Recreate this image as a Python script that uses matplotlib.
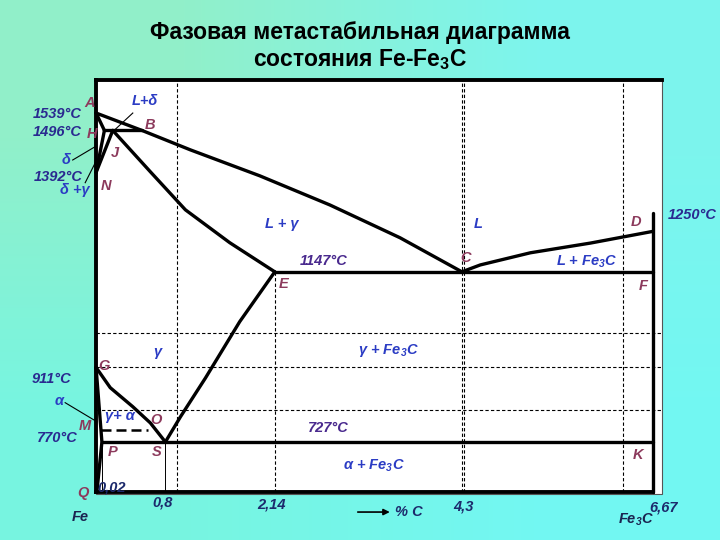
import numpy as np
import matplotlib
matplotlib.use("Agg")
import matplotlib.pyplot as plt
from matplotlib.patches import Rectangle

plt.rcParams['font.family'] = ['Liberation Sans', 'DejaVu Sans']

# Линии диаграммы: содержание углерода (%C) и температура (°C)
liquidus_c = [0, 0.55, 1.13, 1.96, 2.80, 3.64, 4.38]          # A-B-C
liquidus_t = [1539, 1496, 1448, 1384, 1312, 1231, 1147]
cd_c = [4.38, 4.60, 5.20, 5.92, 6.67]                         # C-D
cd_t = [1147, 1164, 1194, 1218, 1247]
je_c = [0.2, 0.65, 1.07, 1.60, 2.14]                          # J-E
je_t = [1496, 1394, 1300, 1219, 1147]
es_c = [2.14, 1.72, 1.31, 1.01, 0.83]                         # E-S
es_t = [1147, 1024, 885, 789, 727]
gs_c = [0, 0.17, 0.44, 0.65, 0.83]                            # G-S
gs_t = [911, 861, 814, 774, 727]
gpq_c = [0, 0.07, 0.01]                                       # G-P-Q
gpq_t = [911, 727, 604]
ah_c, ah_t = [0, 0.1], [1539, 1496]                           # A-H
hb_c, hb_t = [0.1, 0.55], [1496, 1496]                        # H-J-B
hn_c, hn_t = [0.1, 0], [1496, 1392]                           # H-N
jn_c, jn_t = [0.2, 0], [1496, 1392]                           # J-N
ecf_c, ecf_t = [2.14, 6.67], [1147, 1147]
psk_c, psk_t = [0.07, 6.67], [727, 727]
fe3c_c, fe3c_t = [6.67, 6.67], [604, 1293]
mo_c, mo_t = [0.06, 0.62], [757, 757]                         # 770°C (пунктир)

# Сетка
grid_v_full = [0.97, 4.38, 6.31]
grid_v_low = [2.14]
grid_h = [996, 911, 806]

# Поле диаграммы
box_c = [0, 6.78]
box_t = [604, 1621]


def main():
    fig = plt.figure(figsize=(7.2, 5.4), dpi=100)
    ax = fig.add_axes([0, 0, 1, 1])
    ax.set_xlim(-1.15, 7.47)
    ax.set_ylim(485, 1818)
    ax.axis('off')

    # Фон с градиентом
    grad = np.array([[[0.57, 0.94, 0.79], [0.49, 0.96, 0.93]],
                     [[0.47, 0.96, 0.88], [0.45, 0.97, 0.95]]])
    ax.imshow(grad, extent=[-1.15, 7.47, 485, 1818], aspect='auto',
              interpolation='bilinear', origin='upper', zorder=0)

    ax.add_patch(Rectangle((box_c[0], box_t[0] - 5), box_c[1] - box_c[0],
                           box_t[1] - box_t[0] + 5, facecolor='white',
                           edgecolor='#555555', lw=0.8, zorder=1))

    # Пунктирная сетка
    dash = dict(color='black', lw=0.8, ls=(0, (3, 2)), zorder=2)
    for c in grid_v_full:
        ax.plot([c, c], [box_t[0], box_t[1]], **dash)
    ax.plot([4.41, 4.41], [box_t[0], box_t[1]], **dash)
    for c in grid_v_low:
        ax.plot([c, c], [box_t[0], 1147], **dash)
    for t in grid_h:
        ax.plot([0, box_c[1]], [t, t], **dash)
    ax.plot([0.07, 0.07], [604, 727], color='black', lw=0.7, zorder=2)
    ax.plot([0.83, 0.83], [604, 727], color='black', lw=0.7, zorder=2)

    # Основные линии
    thick = dict(color='black', lw=2.4, solid_capstyle='round', solid_joinstyle='round', zorder=4)
    for xs, ys in [(liquidus_c, liquidus_t), (cd_c, cd_t), (je_c, je_t),
                   (es_c, es_t), (gs_c, gs_t), (gpq_c, gpq_t), (ah_c, ah_t),
                   (hb_c, hb_t), (hn_c, hn_t), (jn_c, jn_t), (ecf_c, ecf_t),
                   (psk_c, psk_t), (fe3c_c, fe3c_t)]:
        ax.plot(xs, ys, **thick)
    ax.plot(mo_c, mo_t, color='black', lw=1.8, ls=(0, (4, 2)), zorder=4)

    # Рамка
    border = dict(color='black', lw=2.8, zorder=5)
    ax.plot([0, 0], [box_t[0], box_t[1]], **border)
    ax.plot([0, box_c[1]], [box_t[1], box_t[1]], **border)
    ax.plot([0, 6.67], [box_t[0], box_t[0]], **border)

    # Выноски
    for xs, ys in [([0.44, 0.2], [1539, 1493]), ([-0.28, -0.01], [1423, 1456]),
                   ([-0.13, -0.01], [1367, 1416]), ([-0.37, 0.01], [824, 777])]:
        ax.plot(xs, ys, color='black', lw=0.8, zorder=4)
    ax.annotate('', xy=(3.55, 554), xytext=(3.10, 554),
                arrowprops=dict(arrowstyle='-|>', color='black', lw=1.2,
                                mutation_scale=9))

    temp = '#2a2a90'
    purp = '#4a2a8e'
    pt = '#8c3a5c'
    ph = '#2b3cc4'
    nav = '#1c2a6c'
    fe3 = r'Fe$_\mathregular{3}$C'

    def lab(c, t, s, color, size=10.5):
        ax.text(c, t, s, color=color, fontsize=size, fontweight='bold',
                fontstyle='italic', ha='center', va='center', zorder=6)

    labels = [
        (-0.47, 1537, '1539°C', temp), (-0.08, 1564, 'A', pt),
        (-0.47, 1492, '1496°C', temp), (-0.05, 1488, 'H', pt),
        (0.59, 1569, 'L+δ', ph), (0.65, 1510, 'B', pt),
        (0.22, 1441, 'J', pt), (-0.36, 1424, 'δ', ph),
        (-0.45, 1382, '1392°C', temp), (-0.26, 1349, 'δ +γ', ph),
        (0.12, 1359, 'N', pt), (2.22, 1266, 'L + γ', ph),
        (4.57, 1266, 'L', ph), (6.47, 1270, 'D', pt),
        (7.14, 1288, '1250°C', temp), (2.73, 1174, '1147°C', purp),
        (4.42, 1182, 'C', pt), (5.88, 1172, 'L + ' + fe3, ph),
        (2.25, 1117, 'E', pt), (6.55, 1112, 'F', pt),
        (0.73, 949, 'γ', ph), (3.50, 954, 'γ + ' + fe3, ph),
        (0.10, 915, 'G', pt), (-0.53, 883, '911°C', temp),
        (-0.44, 828, 'α', ph), (0.29, 791, 'γ+ α', ph),
        (0.72, 782, 'O', pt), (-0.13, 766, 'M', pt),
        (-0.46, 738, '770°C', temp), (2.78, 762, '727°C', purp),
        (0.20, 703, 'P', pt), (0.73, 703, 'S', pt),
        (6.49, 695, 'K', pt), (3.33, 668, 'α + ' + fe3, ph),
        (-0.16, 602, 'Q', pt), (0.19, 614, '0,02', nav),
        (-0.19, 542, 'Fe', '#1a2450'), (0.80, 577, '0,8', nav),
        (2.10, 572, '2,14', nav), (3.75, 554, '% C', nav),
        (4.40, 567, '4,3', nav), (6.47, 535, fe3, '#1a2450'),
        (6.80, 564, '6,67', nav),
    ]
    for c, t, s, col in labels:
        lab(c, t, s, col)

    fig.text(0.5, 1 - 33 / 540, 'Фазовая метастабильная диаграмма',
             ha='center', va='center', fontsize=16.5, fontweight='bold')
    fig.text(0.5, 1 - 60 / 540, 'состояния Fe-Fe$_\\mathregular{3}$C',
             ha='center', va='center', fontsize=16.5, fontweight='bold')

    fig.savefig('out.png', dpi=100)


main()
